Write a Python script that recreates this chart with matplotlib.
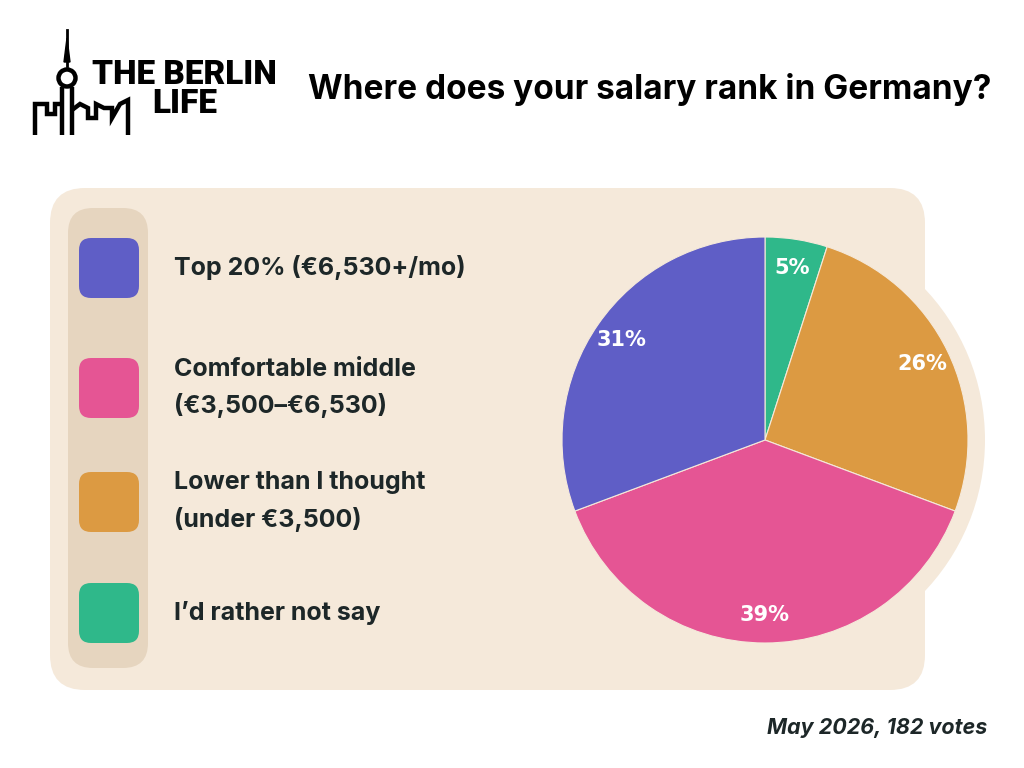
import matplotlib.pyplot as plt
import numpy as np
from matplotlib.patches import FancyBboxPatch, Circle

# poll data (clockwise from 12 o'clock)
labels = ['I\u2019d rather not say', 'Lower than I thought\n(under \u20ac3,500)',
          'Comfortable middle\n(\u20ac3,500\u2013\u20ac6,530)', 'Top 20% (\u20ac6,530+/mo)']
values = [5, 26, 39, 31]
colors = ['#2FB88A', '#DC9A42', '#E55594', '#5F5EC6']

# legend order (top to bottom)
legend_order = [3, 2, 1, 0]

title = 'Where does your salary rank in Germany?'
footer = 'May 2026, 182 votes'

H = 768
txt = '#1d2728'
panel = '#F5E9DA'
strip = '#E6D5BF'

fig = plt.figure(figsize=(10.24, 7.68), dpi=100)
ax = fig.add_axes([0, 0, 1, 1])

def Y(y):
    return H - y

# background panel + circle behind pie
ax.add_patch(FancyBboxPatch((85, Y(655)), 805, 432, boxstyle='round,pad=35',
                            fc=panel, ec='none', zorder=0))
ax.add_patch(Circle((765, Y(440)), 220, fc=panel, ec='none', zorder=0))
ax.add_patch(FancyBboxPatch((93, Y(643)), 30, 410, boxstyle='round,pad=25',
                            fc=strip, ec='none', zorder=1))

# pie
wedges, _ = ax.pie(values, colors=colors, startangle=90, counterclock=False,
                   center=(765, Y(440)), radius=203, frame=True,
                   wedgeprops=dict(linewidth=0.8, edgecolor=panel))
for w, v in zip(wedges, values):
    ang = np.deg2rad((w.theta1 + w.theta2) / 2)
    r = 203 * 0.86
    ax.text(765 + r * np.cos(ang), Y(440) + r * np.sin(ang), f'{v}%',
            ha='center', va='center', color='white', fontsize=15,
            fontweight='bold', family='DejaVu Sans', zorder=5)

# legend
ys = [268, 388, 502, 613]
for i, y in zip(legend_order, ys):
    ax.add_patch(FancyBboxPatch((91, Y(y) - 18), 36, 36, boxstyle='round,pad=12',
                                fc=colors[i], ec='none', zorder=3))
    ax.text(174, Y(y), labels[i], ha='left', va='center', color=txt,
            fontsize=18, fontweight='bold', family='Inter', linespacing=1.65,
            zorder=3)

# title and footer
ax.text(308, Y(89), title, ha='left', va='center', color='black',
        fontsize=24, fontweight='bold', family='Inter')
ax.text(987, Y(728), footer, ha='right', va='center', color=txt,
        fontsize=15.5, fontweight='bold', style='italic', family='Inter')

# logo: tower + skyline
k = dict(color='black', lw=3.2, solid_capstyle='butt', solid_joinstyle='miter')
ax.plot([67, 67], [Y(30), Y(66)], color='black', lw=2)
ax.fill([64, 70, 67], [Y(62), Y(62), Y(38)], color='black')
ax.add_patch(Circle((67, Y(78)), 8.5, fc='none', ec='black', lw=3.2))
ax.plot([62, 62], [Y(87), Y(135)], **k)
ax.plot([72, 72], [Y(87), Y(135)], **k)
ax.plot([35, 35, 47, 47, 55, 55, 62], [Y(135), Y(104), Y(104), Y(114), Y(114), Y(104), Y(104)], **k)
ax.plot([72, 80, 88, 88, 96, 96, 104, 112, 112, 120, 128, 128],
        [Y(110), Y(104), Y(108), Y(118), Y(118), Y(104), Y(108), Y(108), Y(118), Y(104), Y(100), Y(135)], **k)
ax.text(92, Y(75), 'THE BERLIN', ha='left', va='center', color='black',
        fontsize=24, fontweight='black', family='Roboto')
ax.text(152, Y(104), 'LIFE', ha='left', va='center', color='black',
        fontsize=24, fontweight='black', family='Roboto')

ax.set_xlim(0, 1024)
ax.set_ylim(0, H)
ax.set_aspect('auto')
ax.axis('off')

fig.savefig('out.png', dpi=100, facecolor='white')
